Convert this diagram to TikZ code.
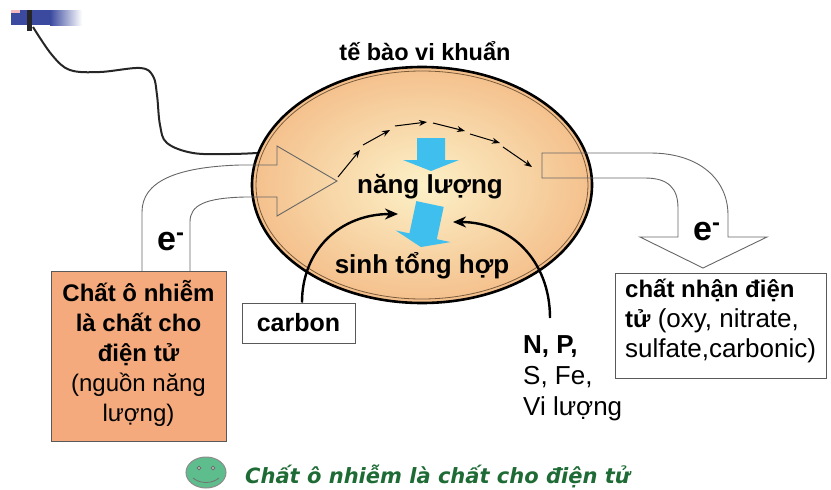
\documentclass[tikz,border=0pt]{standalone}
\usepackage{fontspec}
\setmainfont{Liberation Sans}
\newfontfamily\notefont{DejaVu Sans}
\usetikzlibrary{arrows.meta,shapes.geometric}

\definecolor{cellin}{HTML}{FCF1C8}
\definecolor{cellout}{HTML}{F4C08C}
\definecolor{cellrim}{HTML}{7A5A3A}
\definecolor{donor}{HTML}{F5AA7E}
\definecolor{flowblue}{HTML}{3FBFEE}
\definecolor{notegreen}{HTML}{1F6B35}
\definecolor{smile}{HTML}{5DBD8C}
\definecolor{barblue}{HTML}{3B4A9F}
\definecolor{barpink}{HTML}{F4B8C0}

\newcommand{\boldpart}[1]{{\fontsize{24}{30}\selectfont\bfseries #1}}

\begin{document}
\begin{tikzpicture}[x=1pt,y=-1pt,
  flowline/.style={draw=black!60, line width=0.9pt, line join=miter},
  boxframe/.style={draw=black!65, line width=1pt},
  chain/.style={line width=1pt, -{Stealth[length=8pt,width=6pt]}},
  feed/.style={line width=2.4pt, -{Stealth[length=13pt,width=11pt]}},
  bigtxt/.style={font=\fontsize{26}{30}\selectfont\bfseries},
  txt/.style={font=\fontsize{24}{30}\selectfont},
  eminus/.style={font=\fontsize{34}{34}\selectfont\bfseries},
]
\useasboundingbox (0,0) rectangle (831,490);

% corner decoration
\fill[barblue] (11,10) rectangle (50,25);
\shade[left color=barblue, right color=white] (50,10) rectangle (82,25);
\fill[barpink] (11,10) rectangle (20,13);
\fill[black!85] (27,10) rectangle (32,31);
\coordinate (wirestart) at (33,27);

% bacterial cell
\node[ellipse, minimum width=340pt, minimum height=236pt, inner sep=0pt,
      inner color=cellin, outer color=cellout, draw=black, line width=2.6pt] (cell) at (422,185) {};
\draw[cellrim, line width=0.8pt] (cell.center) ellipse [x radius=166, y radius=114];
\node[font=\fontsize{23.5}{26}\selectfont\bfseries, anchor=base] (celltitle) at (425,60) {tế bào vi khuẩn};

% wire into the cell
\coordinate (wireend) at (257,153);
\draw[line width=2pt, black!85] plot[smooth, tension=0.6] coordinates
  {(wirestart) (52,55) (70,70) (100,72) (140,68) (153,76) (157,95) (160,125) (167,143) (193,153) (230,154) (wireend)};

% electron flow in (donor -> cell)
\draw[flowline] (142,271) -- (142,212) .. controls (142,182) and (175,167) .. (240,165) -- (277,165)
  -- (277,146) -- (337,181) -- (277,216) -- (277,197) -- (245,197)
  .. controls (205,198) and (190,205) .. (190,222) -- (190,271);
% electron flow out (cell -> acceptor)
\draw[flowline] (542,153) -- (650,153) .. controls (700,153) and (728,180) .. (728,215) -- (728,237)
  -- (767,237) -- (703,268) -- (640,237) -- (678,237) -- (678,208)
  .. controls (678,188) and (668,178) .. (645,178) -- (542,178) -- cycle;

% electron transport chain
\draw[chain] (338,177) -- (360,150);
\draw[chain] (363,145) -- (390,130);
\draw[chain] (395,126) -- (427,122);
\draw[chain] (433,123) -- (465,131);
\draw[chain] (470,134) -- (500,143);
\draw[chain] (503,147) -- (532,167);

% blue block arrows
\fill[flowblue] (417,138) -- (445,138) -- (445,160) -- (459,160) -- (431,171) -- (403,160) -- (417,160) -- cycle;
\begin{scope}[shift={(430,204)}, rotate=-12]
  \fill[flowblue] (-14,0) -- (14,0) -- (14,33) -- (28,33) -- (0,44) -- (-28,33) -- (-14,33) -- cycle;
\end{scope}

\node[bigtxt, anchor=base] (energy) at (430,193) {năng lượng};
\node[bigtxt, anchor=base] (synth) at (422,273) {sinh tổng hợp};

% electron labels
\node[eminus, anchor=base west, inner sep=0pt] (ein) at (157,250) {e\textsuperscript{-}};
\node[eminus, anchor=base west, inner sep=0pt] (eout) at (693,240) {e\textsuperscript{-}};

% electron donor box (anchor base = last line)
\node[boxframe, fill=donor, minimum width=175pt, minimum height=170pt, anchor=north west] (donorbox) at (51,271) {};
\node[txt, align=center, anchor=base] (donortxt) at (138.5,421)
  {\textbf{Chất ô nhiễm}\\\textbf{là chất cho}\\\textbf{điện tử}\\(nguồn năng\\lượng)};

% carbon source
\node[boxframe, fill=white, minimum width=113pt, minimum height=40pt,
      font=\fontsize{25}{30}\selectfont\bfseries] (carbon) at (298.5,323) {carbon};

% nutrients
\node[font=\fontsize{26}{31}\selectfont, align=left, anchor=base west, inner sep=0pt] (nutrients) at (523,415)
  {\textbf{N, P,}\\S, Fe,\\Vi lượng};
\coordinate (nutrtop) at (550,318);

% electron acceptor box
\node[boxframe, fill=white, minimum width=211pt, minimum height=105pt, anchor=north west] (acceptor) at (615,273) {};
\node[font=\fontsize{26}{30}\selectfont, align=left, anchor=base west, inner sep=0pt] (acceptortxt) at (625,357)
  {\boldpart{chất nhận điện}\\\boldpart{tử} (oxy, nitrate,\\sulfate,carbonic)};

% supply arrows into metabolism
\coordinate (carbontip) at (398,214);
\coordinate (nutrtip) at (453,222);
\draw[feed] (carbon.north -| 302,0) .. controls (302,250) and (340,214) .. (carbontip);
\draw[feed] (nutrtop) .. controls (550,260) and (510,222) .. (nutrtip);

% footnote with smiley
\node[ellipse, minimum width=40pt, minimum height=31pt, inner sep=0pt, fill=smile, draw=black!45, line width=1pt] (face) at (206,472.5) {};
\draw[black!60, fill=white!85!smile, line width=0.8pt] (199,468) circle (1.8) (213,468) circle (1.8);
\draw[black!55, line width=0.8pt] (193,478) .. controls (200,484) and (212,484) .. (219,478);
\node[font=\notefont\fontsize{21}{24}\selectfont\bfseries\itshape, text=notegreen, anchor=base west, inner sep=0pt] (note) at (245,483)
  {Chất ô nhiễm là chất cho điện tử};
\end{tikzpicture}
\end{document}
